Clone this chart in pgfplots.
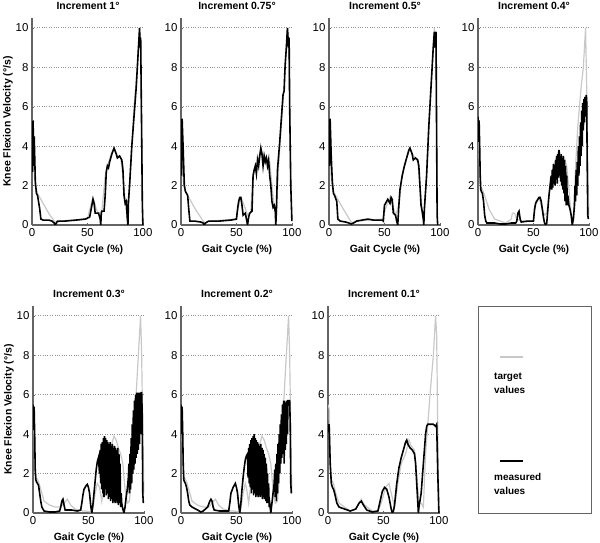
\documentclass[border=0pt]{standalone}
\usepackage{pgfplots}
\pgfplotsset{compat=1.18}
\usepackage{fontspec}
\setmainfont{Liberation Sans}
\definecolor{tgt}{RGB}{200,200,200}
\definecolor{axc}{RGB}{100,100,100}
\pgfplotsset{
  panel/.style={
    scale only axis, width=112bp, height=207bp,
    xmin=0, xmax=101, ymin=0, ymax=10.5,
    xtick={0,50,100}, ytick={0,2,4,6,8,10},
    axis x line*=bottom, axis y line*=left,
    axis line style={-, axc, line width=1.1pt},
    tick style={axc}, tick align=inside, major tick length=2bp,
    ymajorgrids, grid style={dotted, gray!85, line width=0.8pt},
    /pgf/number format/assume math mode=true,
    tick label style={font=\fontsize{11.5}{12}\selectfont},
    every axis title shift=0pt,
    title style={at={(axis description cs:0.5,1.06)}, anchor=center, font=\bfseries\fontsize{10.5}{12}\selectfont},
    xlabel={Gait Cycle (\%)},
    xlabel style={at={(axis description cs:0.5,-0.118)}, anchor=center, font=\bfseries\fontsize{10.5}{12}\selectfont},
    ylabel style={at={(axis description cs:-0.214,0.5)}, anchor=center, font=\bfseries\fontsize{10.5}{12}\selectfont},
    anchor=south west,
  },
  target/.style={tgt, line width=1.2pt, no marks},
  meas/.style={black, line width=1.6pt, no marks},
}
\begin{document}
\begin{tikzpicture}
\path[use as bounding box] (0,0) rectangle (600bp,543bp);

% ---------- Increment 1
\begin{axis}[panel, at={(32bp,318bp)}, title={Increment 1°}, ylabel={Knee Flexion Velocity (°/s)}]
\addplot[target] coordinates {(0,5.3)(1,4)(2,2.5)(3,2)(5,1.6)(10,1.1)(15,0.6)(20,0.2)(22,0.1)(25,0.2)(50,0.3)(53,1)(55,1.4)(58,0.8)(60,0.6)(63,0.7)(66,2.5)(68,3)(72,3.7)(74,3.9)(77,3.5)(80,3.4)(82,2.5)(84,1.2)(86,0.3)(88,2)(92,6)(95,8)(97,10)(98,9)(99,4)(100,0)};
\addplot[meas] coordinates {(0,5.3)(0.5,2.7)(1,5.3)(1.5,3)(2,4.5)(3,2.2)(4,1.6)(5,1.5)(7,0.8)(8,0.3)(10,0.25)(15,0.25)(18,0.2)(20,0.1)(21,0)(22,0.1)(23,0.2)(30,0.2)(40,0.25)(48,0.3)(52,0.4)(54,1.0)(55,1.3)(56,1.1)(57,0.6)(60,0.6)(61.5,0.3)(62,0)(62.5,0.6)(63,0.7)(65,0.7)(66,1.5)(67,2.7)(68,3.0)(69,2.9)(70,3.2)(72,3.6)(74,3.9)(76,3.6)(77,3.4)(79,3.5)(81,3.3)(82,2.8)(83,1.5)(84,1.1)(85,1.2)(86,0.3)(86.5,0)(87,1.2)(88,2)(90,4)(92,5.5)(94,7)(96,9)(97,10)(97.5,9)(98,9.5)(99,4)(99.5,1)(100,0)};
\end{axis}

% ---------- Increment 0.75
\begin{axis}[panel, at={(181bp,318bp)}, title={Increment 0.75°}]
\addplot[target] coordinates {(0,5.4)(1,4)(2,2.2)(4,1.7)(6,1.5)(13,0.8)(20,0.2)(22,0.1)(25,0.2)(50,0.3)(52,1.0)(54,1.4)(57,1.0)(60,0.5)(63,0.7)(65,2.5)(68,3.0)(72,3.8)(74,3.6)(77,3.4)(80,3.2)(82,2.0)(84,0.9)(86,0.5)(88,3)(91,5.5)(93,7)(95,9)(96,10)(97,9)(98,6)(99,2)(100,0.3)};
\addplot[meas] coordinates {(0,5.4)(0.5,2.5)(1,5.4)(2,3.8)(3,2)(4,1.7)(5,1.6)(6,1.5)(7,0.8)(8,0.2)(12,0.2)(18,0.15)(20,0.1)(21,0)(22,0.1)(25,0.2)(35,0.2)(45,0.25)(50,0.3)(51,0.8)(52,1.2)(53,1.4)(54,1.4)(55,1.0)(56,0.5)(58,0.6)(59,0.3)(60,0)(61,0.4)(62,0.6)(64,0.7)(65,2.5)(66,2.8)(67,3.0)(68,2.6)(69,3.3)(70,3.0)(71,3.5)(72,3.9)(73,3.6)(74,3.0)(75,3.5)(76,3.2)(77,3.4)(78,3.0)(79,3.3)(80,2.5)(81,2.0)(82,1.2)(83,0.9)(84,1.0)(85,0.7)(85.5,0)(86,0.7)(87,2.8)(88,3.5)(89,4.2)(90,5.0)(91,5.8)(92,6.6)(93,6.8)(93.5,7.6)(94,8.2)(95,9.0)(96,10.0)(97,9.0)(97.5,9.5)(98,6)(99,2)(100,0.2)};
\end{axis}

% ---------- Increment 0.5
\begin{axis}[panel, at={(329bp,318bp)}, title={Increment 0.5°}]
\addplot[target] coordinates {(0,5.4)(1,4)(2,2.3)(4,1.7)(6,1.5)(13,0.8)(20,0.15)(22,0.1)(25,0.2)(48,0.3)(52,1.0)(55,1.4)(58,0.9)(60,0.5)(63,1.0)(66,2.5)(70,3.4)(73,3.9)(75,3.6)(78,3.4)(80,3.2)(82,2.0)(84,0.8)(85.5,0.3)(88,2.5)(91,6)(94,9)(95,10)(96,9.5)(97,5)(98,0.5)};
\addplot[meas] coordinates {(0,5.4)(0.5,3)(1,5.4)(2,3.5)(3,2.2)(4,1.6)(5,1.5)(7,1.2)(8,0.3)(10,0.2)(15,0.15)(18,0.1)(20,0.05)(22,0.1)(25,0.2)(30,0.25)(35,0.3)(40,0.25)(48,0.25)(49,0.2)(50,1.0)(52,1.2)(53,1.3)(55,1.1)(56,1.4)(57,1.3)(58,0.6)(60,0.5)(61,0.2)(62,0)(63,1.0)(64,1.8)(66,2.5)(68,3.0)(70,3.4)(72,3.8)(73,3.9)(75,3.6)(76,3.3)(78,3.4)(80,3.3)(81,3.0)(82,2.0)(83,1.0)(84,0.7)(85,0.3)(85.5,0)(86,0.8)(88,2.5)(90,5)(92,7)(94,9)(95,9.8)(95.5,9)(96,9.6)(96.5,9.8)(97,5)(97.5,0.5)(98,0)};
\end{axis}

% ---------- Increment 0.4
\begin{axis}[panel, at={(478bp,318bp)}, title={Increment 0.4°}]
\addplot[target] coordinates {(0,5.5)(2,2)(4,1.8)(6,1.5)(10,0.8)(15,0.3)(20,0.2)(25,0.1)(30,0.3)(31,0.6)(33,0.6)(35,0.3)(40,0.2)(50,0.2)(52,1.2)(55,1.4)(57,1.0)(60,0.5)(62,0.6)(65,2)(68,3)(71,3.5)(73,3.8)(75,3.5)(78,3.4)(80,3)(82,1.8)(84,0.5)(86,0.3)(88,3)(90,5)(93,7)(95,8)(97,10)(98,7)(99,3)(100,0.5)};
\addplot[meas] coordinates {(0,5.5)(0.5,4.2)(1,5.3)(1.5,4)(2,2.5)(2.5,1.8)(3,1.7)(4,1.6)(5,1.2)(6,0.5)(7,0.2)(8,0.1)(15,0.1)(20,0.05)(25,0.05)(30,0.1)(34,0.1)(35,0.2)(36,0.6)(37,0.7)(38,0.3)(39,0.15)(45,0.2)(50,0.2)(51,0.8)(52,1.1)(54,1.3)(55,1.4)(56,1.4)(57,1.2)(58,0.8)(59,0.4)(60,0.1)(61,0)(62,0.1)(63,0.8)(64,1.5)(65,2.0)(66,2.5)
(66.5,1.8)(67,2.8)(67.5,1.9)(68,3.1)(68.5,2.2)(69,3.0)(69.5,2.0)(70,3.3)(70.5,2.3)(71,3.5)(71.5,2.1)(72,3.6)(72.5,2.4)(73,3.8)(73.5,2.5)(74,3.5)(74.5,2.2)(75,3.6)(75.5,2.0)(76,3.4)(76.5,1.8)(77,3.5)(77.5,1.6)(78,3.3)(78.5,1.2)(79,3.0)(79.5,1.0)(80,2.5)(80.5,1.0)(81,1.5)(82,1.0)(83,0.8)(84,0.5)(85,0)(86,0.3)(87,1.0)
(87.5,2.0)(88,1.2)(88.5,2.8)(89,1.5)(89.5,3.2)(90,2.0)(90.5,4.0)(91,2.5)(91.5,4.5)(92,3.0)(92.5,5.2)(93,3.5)(93.5,5.8)(94,4.0)(94.5,6.2)(95,4.8)(95.5,6.4)(96,5.2)(96.5,6.5)(97,5.5)(97.5,6.6)(98,6.4)(98.5,3)(99,0.5)(99.5,0.3)};
\end{axis}

% ---------- Increment 0.3
\begin{axis}[panel, at={(33bp,30bp)}, title={Increment 0.3°}, ylabel={Knee Flexion Velocity (°/s)}]
\addplot[target] coordinates {(0,5.5)(1,4)(2,2.2)(3,1.8)(5,1.6)(7,1.2)(10,0.6)(15,0.4)(20,0.3)(25,0.3)(28,0.5)(31,0.7)(34,0.4)(38,0.2)(45,0.1)(48,0.1)(52,0.05)(54,0.2)(56,1.0)(58,1.5)(60,1.3)(62,0.6)(64,1.5)(67,2.5)(70,3.3)(73,3.9)(75,3.7)(77,3.3)(79,3.0)(81,2.5)(83,1.2)(85,0.5)(87,0.6)(89,2)(91,4)(93,6)(95,8)(97,10)(98,8)(99,4)(100,1)};
\addplot[meas] coordinates {(0,5.5)(0.5,4.2)(1,5.4)(1.5,4)(2,2.2)(2.5,1.7)(3,1.6)(4,1.5)(5,1.4)(6,1.0)(7,0.6)(8,0.3)(10,0.1)(15,0.05)(20,0.05)(24,0.1)(25,0.3)(26,0.6)(27,0.7)(28,0.4)(29,0.15)(35,0.15)(40,0.1)(43,0.15)(44,0.5)(45,0.9)(46,1.2)(48,1.4)(49,1.45)(50,1.3)(51,1.0)(52,0.4)(53,0)(54,0.4)(55,1.0)(56,1.6)(57,2.2)(58,2.6)(59,2.8)(60,2.0)
(60.5,3.2)(61,1.5)(61.5,3.5)(62,1.2)(62.5,3.6)(63,1.0)(63.5,3.8)(64,0.8)(64.5,3.9)(65,1.2)(65.5,3.8)(66,0.9)(66.5,3.7)(67,1.0)(67.5,3.6)(68,0.7)(68.5,3.5)(69,0.8)(69.5,3.6)(70,0.6)(70.5,3.4)(71,0.7)(71.5,3.5)(72,0.5)(72.5,3.3)(73,0.6)(73.5,3.4)(74,0.5)(74.5,3.3)(75,0.6)(75.5,3.2)(76,0.5)(76.5,3.3)(77,0.4)(77.5,3.0)(78,0.5)(78.5,2.5)(79,0.3)(79.5,1.0)(80,0.5)(81,0.2)(82,0)(83,0.3)(84,0.8)(85,1.2)(86,1.8)
(86.5,2.5)(87,1.0)(87.5,3.0)(88,1.2)(88.5,3.8)(89,1.5)(89.5,4.5)(90,2.0)(90.5,5.2)(91,2.2)(91.5,5.7)(92,2.5)(92.5,6.0)(93,2.8)(93.5,6.1)(94,3.0)(94.5,6.1)(95,3.2)(95.5,6.1)(96,3.5)(96.5,6.1)(97,4.0)(97.5,6.1)(98,6.1)(98.5,5)(99,1)(99.5,0.5)};
\end{axis}

% ---------- Increment 0.2
\begin{axis}[panel, at={(181bp,30bp)}, title={Increment 0.2°}]
\addplot[target] coordinates {(0,5.5)(1,4)(2,2.2)(3,1.8)(5,1.6)(7,1.2)(10,0.6)(15,0.4)(20,0.3)(25,0.3)(28,0.5)(31,0.7)(34,0.4)(38,0.2)(45,0.1)(48,0.1)(52,0.05)(54,0.2)(56,1.0)(58,1.5)(59,1.3)(61,0.5)(63,1.5)(66,2.5)(70,3.3)(73,3.9)(75,3.7)(77,3.3)(79,3.0)(81,2.5)(83,1.2)(85,0.5)(87,0.6)(89,2)(91,4)(93,6)(95,8)(97,10)(98,8)(99,4)(100,1)};
\addplot[meas] coordinates {(0,5.5)(0.5,4.0)(1,5.4)(1.5,4.2)(2,2.5)(2.5,1.7)(3,1.6)(4,1.5)(5,1.3)(6,1.0)(7,0.6)(8,0.4)(10,0.3)(15,0.15)(18,0.05)(20,0.1)(22,0.2)(24,0.3)(26,0.6)(27,0.7)(28,0.6)(29,0.3)(30,0.15)(35,0.1)(40,0.1)(43,0.1)(44,0.5)(45,1.0)(47,1.3)(49,1.5)(50,1.3)(51,1.0)(52,0.4)(53,0)(54,0.5)(55,1.2)(56,1.8)(57,2.3)(58,2.7)(59,2.9)(60,3.0)
(60.5,1.8)(61,3.3)(61.5,1.5)(62,3.5)(62.5,1.3)(63,3.7)(63.5,1.0)(64,3.8)(64.5,1.2)(65,3.9)(65.5,0.9)(66,4.0)(66.5,1.0)(67,3.8)(67.5,0.8)(68,3.7)(68.5,0.9)(69,3.6)(69.5,0.8)(70,3.5)(70.5,0.9)(71,3.4)(71.5,0.8)(72,3.5)(72.5,0.9)(73,3.3)(73.5,0.7)(74,3.2)(74.5,0.8)(75,3.0)(75.5,0.7)(76,2.8)(76.5,0.6)(77,2.5)(77.5,0.5)(78,2.0)(78.5,0.5)(79,1.5)(79.5,0.3)(80,0.5)(81,0)(82,0.5)(83,1.0)(84,1.5)
(84.5,2.2)(85,0.8)(85.5,2.5)(86,0.6)(86.5,3.0)(87,1.0)(87.5,3.5)(88,1.5)(88.5,4.0)(89,2.0)(89.5,4.5)(90,2.5)(90.5,5.0)(91,2.8)(91.5,5.5)(92,3.0)(92.5,5.7)(93,2.5)(93.5,5.7)(94,3.2)(94.5,5.6)(95,3.5)(95.5,5.7)(96,4.0)(96.5,5.7)(97,5.7)(98,5.7)(98.5,4.5)(99,1.5)(99.5,1.0)};
\end{axis}

% ---------- Increment 0.1
\begin{axis}[panel, at={(328bp,30bp)}, title={Increment 0.1°}]
\addplot[target] coordinates {(0,5.5)(1,5.3)(2,2.5)(3,1.7)(5,1.5)(7,1.0)(10,0.5)(15,0.3)(20,0.1)(25,0.2)(30,0.7)(33,0.4)(40,0.1)(45,0.1)(48,0.5)(52,1.3)(55,1.5)(57,1.0)(60,0.3)(63,1.5)(66,2.5)(70,3.0)(73,3.7)(75,3.4)(78,3.2)(80,2)(82,0.5)(84,0.5)(86,0.3)(88,3)(92,6)(95,8)(97,10)(98,9)(99,4)(100,0.5)};
\addplot[meas] coordinates {(0,4.5)(0.5,4.3)(1,4.5)(2,2.5)(3,1.5)(4,1.3)(5,1.2)(6,1.0)(8,0.5)(10,0.3)(15,0.2)(20,0.1)(25,0.2)(28,0.5)(30,0.6)(32,0.4)(35,0.15)(40,0.05)(45,0.1)(47,0.6)(49,1.1)(51,1.3)(53,1.2)(55,0.8)(57,0.2)(58,0)(59,0.1)(60,0.4)(62,1.5)(64,2.3)(66,2.8)(68,3.2)(70,3.6)(71,3.7)(72,3.5)(74,3.3)(76,3.2)(78,3.0)(79,2.5)(80,1.5)(81,0.5)(81.5,0)(82,0.3)(84,1.0)(86,2.5)(88,4.0)(89,4.4)(90,4.5)(95,4.5)(97,4.4)(98,4.5)(99,2)(100,0)};
\end{axis}

% ---------- legend box
\draw[axc, line width=0.8pt] (478bp,30bp) rectangle (591bp,237bp);
\draw[tgt, line width=1.2pt] (500bp,186bp) -- (523bp,186bp);
\draw[black, line width=1.6pt] (500bp,82bp) -- (523bp,82bp);
\node[anchor=west, inner sep=0pt, font=\bfseries\fontsize{10}{12}\selectfont] at (494bp,166bp) {target};
\node[anchor=west, inner sep=0pt, font=\bfseries\fontsize{10}{12}\selectfont] at (494bp,153bp) {values};
\node[anchor=west, inner sep=0pt, font=\bfseries\fontsize{10}{12}\selectfont] at (494bp,66bp) {measured};
\node[anchor=west, inner sep=0pt, font=\bfseries\fontsize{10}{12}\selectfont] at (494bp,52bp) {values};
\end{tikzpicture}
\end{document}
